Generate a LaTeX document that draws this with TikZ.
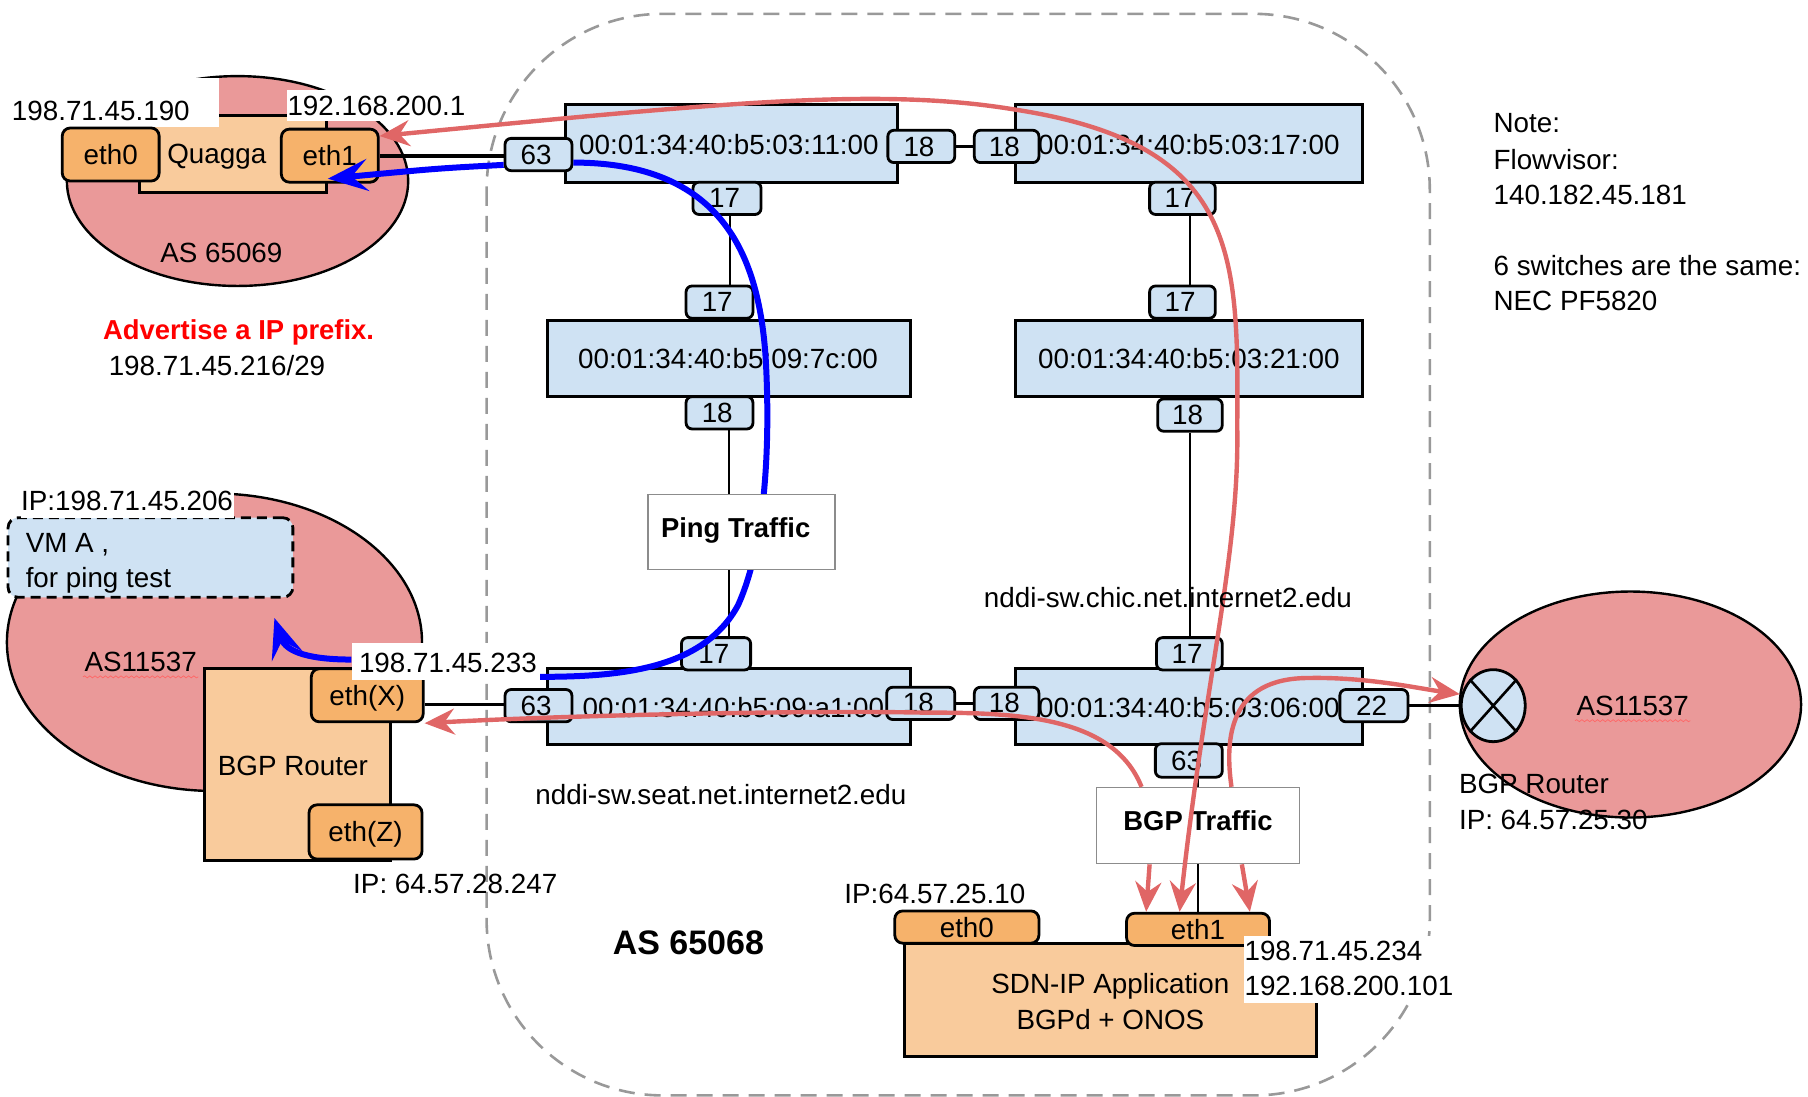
\documentclass[tikz,border=0pt]{standalone}
\usepackage{fontspec}
\setmainfont{Liberation Sans}
\usetikzlibrary{arrows.meta,decorations.pathmorphing,shapes.geometric}
\definecolor{swblue}{HTML}{CFE2F3}
\definecolor{aspink}{HTML}{EA9999}
\definecolor{lorange}{HTML}{F9CB9C}
\definecolor{dorange}{HTML}{F6B26B}
\definecolor{redline}{HTML}{E06666}
\newcommand{\bx}[7]{%
  \pgfmathsetmacro\bxx{(#3+#5)/2}\pgfmathsetmacro\byy{(#4+#6)/2}%
  \pgfmathsetmacro\bw{(#5-#3)*0.5765}\pgfmathsetmacro\bh{(#6-#4)*0.5765}%
  \node[#2,minimum width=\bw pt,minimum height=\bh pt,inner sep=0pt] (#1) at (\bxx,\byy) {#7};}
\newcommand{\pn}[1]{#1\kern2.3pt}
\tikzset{
  sw/.style={draw=black,fill=swblue,line width=1.5pt},
  port/.style={draw=black,fill=swblue,line width=1.4pt,rounded corners=3pt},
  ifc/.style={draw=black,fill=dorange,line width=1.4pt,rounded corners=4pt},
  host/.style={draw=black,fill=lorange,line width=1.5pt},
  traffic/.style={draw=black!45,fill=white,line width=.7pt},
  asell/.style={draw=black,fill=aspink,line width=1.2pt},
  link/.style={draw=black,line width=1.2pt},
  lbl/.style={inner sep=0pt,anchor=west},
  wlbl/.style={fill=white,inner sep=0pt},
  boldlbl/.style={inner sep=0pt,font=\fontsize{13.7}{16}\selectfont\bfseries},
  bluepath/.style={draw=blue,line width=3pt,-{Stealth[length=20pt,width=16pt,inset=8pt]}},
  bluethick/.style={draw=blue,line width=3pt},
  redpath/.style={draw=redline,line width=2.2pt,-{Stealth[length=15pt,width=13pt,inset=5pt]}},
  reddouble/.style={draw=redline,line width=2.2pt,{Stealth[length=15pt,width=13pt,inset=5pt]}-{Stealth[length=15pt,width=13pt,inset=5pt]}},
  squig/.style={draw=red!60,line width=.35pt,decorate,decoration={snake,amplitude=.5pt,segment length=2.6pt}}
}
\begin{document}
\begin{tikzpicture}[x=0.5765pt,y=-0.5765pt,font=\fontsize{13.9}{16}\selectfont]
\useasboundingbox (0,0) rectangle (1568,951);
% AS 65068 cloud
\draw[draw=black!40,line width=1.3pt,dash pattern=on 8pt off 5pt,rounded corners=88pt] (422,12) rectangle (1240,950);
% AS ellipses
\draw[asell] (206,157) ellipse [x radius=148,y radius=91];
\draw[asell] (186,557) ellipse [x radius=180,y radius=129];
\draw[asell] (1414,611) ellipse [x radius=148,y radius=98];
% host boxes
\bx{quagga}{host}{121}{100}{283}{167}{}
\bx{wa}{fill=white}{0}{68}{190}{110}{}
\bx{wb}{fill=white}{249}{78}{405}{105}{}
\bx{bgpr}{host}{177}{580}{339}{746}{}
\bx{sdn}{host}{784}{818}{1142}{916}{}
% switches
\bx{s11}{sw}{490}{91}{778}{158}{}
\bx{s17}{sw}{881}{91}{1182}{158}{}
\bx{s7c}{sw}{475}{278}{790}{344}{}
\bx{s21}{sw}{881}{278}{1182}{344}{}
\bx{sa1}{sw}{475}{580}{790}{646}{}
\bx{s06}{sw}{881}{580}{1182}{646}{}
\node[lbl] (t11) at (502,125) {00:01:34:40:b5:03:11:00};
\node[lbl] (t17) at (900,125) {00:01:34:40:b5:03:17:00};
\node[lbl] (t7c) at (501,311) {00:01:34:40:b5:09:7c:00};
\node[lbl] (t21) at (900,311) {00:01:34:40:b5:03:21:00};
\node[lbl] (ta1) at (505,614) {00:01:34:40:b5:09:a1:00};
\node[lbl] (t06) at (900,614) {00:01:34:40:b5:03:06:00};
% interfaces
\bx{qe0}{ifc}{54}{111}{138}{157}{eth0}
\bx{qe1}{ifc}{244}{112}{328}{158}{eth1}
\bx{ex}{ifc,text height=11.8pt,text depth=2pt}{270}{580}{367}{626}{eth(X)}
\bx{ez}{ifc,text height=11.6pt,text depth=2pt}{268}{698}{366}{745}{eth(Z)}
\bx{se0}{ifc}{776}{790}{901}{818}{eth0}
\bx{se1}{ifc}{977}{792}{1101}{820}{eth1}
% ports
\bx{p63t}{port}{438}{120}{496}{148}{\pn{63}}
\bx{p18a}{port}{770}{113}{828}{141}{\pn{18}}
\bx{p18b}{port}{845}{113}{901}{141}{\pn{18}}
\bx{p17a}{port}{601}{158}{660}{186}{\pn{17}}
\bx{p17b}{port}{997}{158}{1054}{186}{\pn{17}}
\bx{p17c}{port}{595}{248}{653}{276}{\pn{17}}
\bx{p17d}{port}{997}{248}{1054}{276}{\pn{17}}
\bx{p18c}{port}{595}{344}{653}{372}{\pn{18}}
\bx{p18d}{port}{1004}{346}{1060}{374}{\pn{18}}
\bx{p17e}{port}{591}{553}{651}{581}{\pn{17}}
\bx{p17f}{port}{1003}{553}{1060}{581}{\pn{17}}
\bx{p63b}{port}{438}{598}{496}{626}{\pn{63}}
\bx{p18e}{port}{769}{596}{828}{624}{\pn{18}}
\bx{p18f}{port}{845}{596}{901}{624}{\pn{18}}
\bx{p22}{port}{1162}{598}{1221}{626}{\pn{22}}
\bx{p63c}{port}{1002}{645}{1060}{674}{\pn{63}}
% X circle
\node[ellipse,draw=black,fill=swblue,line width=1.4pt,minimum width=32pt,minimum height=36pt,inner sep=0pt] (xr) at (1295,612) {};
\draw[line width=1.3pt] (xr.north west) -- (xr.south east) (xr.north east) -- (xr.south west);
% links
\draw[draw=black,line width=2pt] (qe1.east |- 0,135) -- (p63t.west |- 0,135);
\draw[link] (p18a) -- (p18b);
\draw[link] (p17a.south -| 633,0) -- (p17c.north -| 633,0);
\draw[link] (p17b.south -| 1032,0) -- (p17d.north -| 1032,0);
\draw[link] (p18c.south -| 632,0) -- (p17e.north -| 632,0);
\draw[link] (p18d.south -| 1032,0) -- (p17f.north -| 1032,0);
\draw[link] (ex.east |- 0,611) -- (p63b.west |- 0,611);
\draw[link] (p18e) -- (p18f);
\draw[link] (p22.east) -- (xr.west);
\draw[link] (p63c.south -| 1039,0) -- (se1.north -| 1039,0);
% blue paths
\coordinate (bs) at (468,587);
\coordinate (vmtip) at (238,536);
\draw[bluethick] (bs) .. controls (540,587) and (610,580) .. (640,525) .. controls (665,470) and (668,380) .. (664,310) .. controls (658,220) and (625,141) .. (p63t.east |- 0,141);
\draw[bluepath] (p63t.west |- 0,143) .. controls (380,146) .. (quagga.east |- 0,155);
% traffic boxes
\bx{ping}{traffic}{562}{429}{724}{494}{}
\node[boldlbl] (pingt) at (638,460) {Ping Traffic};
\bx{bgpb}{traffic}{951}{683}{1127}{749}{}
\node[boldlbl] (bgpt) at (1039,712) {BGP Traffic};
% VM box
\bx{vm}{draw=black,fill=swblue,line width=1.4pt,dash pattern=on 5pt off 3pt,rounded corners=5pt}{7}{449}{254}{518}{}
\node[lbl] (vm1) at (22,472) {VM A ,};
\node[lbl] (vm2) at (22,503) {for ping test};
\bx{wc}{wlbl}{18}{421}{203}{449}{}
\node[lbl] (ipvm) at (18,434) {IP:198.71.45.206};
% white-backed label and blue arrow to VM
\bx{wd}{wlbl}{305}{558}{468}{590}{}
\node[lbl] (l233) at (311,575) {198.71.45.233};
\draw[bluepath] (wd.west |- 0,572) .. controls (270,572) and (248,566) .. (vmtip);
% red paths
\draw[redpath] (bgpb.north -| 1068,0) .. controls (1062,640) and (1066,588) .. (1135,588) .. controls (1185,587) and (1230,597) .. (xr.west |- 0,602);
\draw[redpath] (bgpb.north -| 990,0) .. controls (965,620) and (880,618) .. (800,618) .. controls (700,616) and (500,620) .. (ex.south east);
\draw[redpath] (bgpb.south -| 997,0) -- (se1.north -| 994,0);
\draw[redpath] (bgpb.south -| 1077,0) -- (se1.north -| 1084,0);
\draw[reddouble] (se1.north -| 1023,0) .. controls (1045,590) and (1075,480) .. (1073,370) .. controls (1074,220) and (1075,125) .. (880,95) .. controls (760,75) and (620,90) .. (qe1.north east |- 0,118);
% texts
\node[inner sep=0pt] (tq) at (188,136) {Quagga};
\node[inner sep=0pt] (tas1) at (192,219) {AS 65069};
\node[lbl] (l190) at (10,96) {198.71.45.190};
\node[lbl] (l1921) at (249,92) {192.168.200.1};
\node[lbl,text=red,font=\fontsize{13.7}{16}\selectfont\bfseries] (adv) at (89,288) {Advertise a IP prefix.};
\node[lbl] (pfx) at (94,317) {198.71.45.216/29};
\node[lbl] (n1) at (1295,107) {Note:};
\node[lbl] (n2) at (1295,138) {Flowvisor:};
\node[lbl] (n3) at (1295,169) {140.182.45.181};
\node[lbl] (n4) at (1295,230) {6 switches are the same:};
\node[lbl] (n5) at (1295,261) {NEC PF5820};
\node[lbl] (chic) at (853,518) {nddi-sw.chic.net.internet2.edu};
\node[lbl] (seat) at (464,689) {nddi-sw.seat.net.internet2.edu};
\node[inner sep=0pt,font=\fontsize{17}{19}\selectfont\bfseries] (as68) at (597,818) {AS 65068};
\node[lbl] (ip25) at (732,775) {IP:64.57.25.10};
\node[lbl] (ip28) at (306,767) {IP: 64.57.28.247};
\node[inner sep=0pt] (tbgp) at (254,664) {BGP Router};
\node[inner sep=0pt] (tas2) at (122,574) {AS11537};
\draw[squig] (72,587) -- (172,587);
\node[inner sep=0pt] (tas3) at (1416,612) {AS11537};
\draw[squig] (1366,625) -- (1466,625);
\node[lbl] (br1) at (1265,680) {BGP Router};
\node[lbl] (br2) at (1265,711) {IP: 64.57.25.30};
\node[inner sep=0pt] (sd1) at (963,855) {SDN-IP Application};
\node[inner sep=0pt] (sd2) at (963,884) {BGPd + ONOS};
\bx{we}{wlbl}{1079}{812}{1262}{870}{}
\node[lbl] (l234) at (1079,825) {198.71.45.234};
\node[lbl] (l101) at (1079,855) {192.168.200.101};
\end{tikzpicture}
\end{document}
